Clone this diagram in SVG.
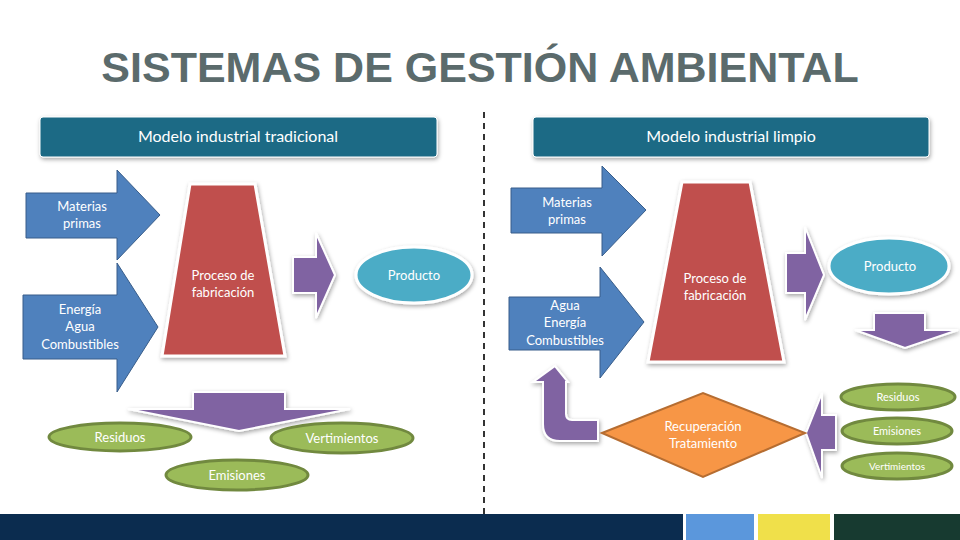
<svg xmlns="http://www.w3.org/2000/svg" width="960" height="540" viewBox="0 0 960 540">
<defs>
<filter id="sh" x="-20%" y="-20%" width="140%" height="150%"><feDropShadow dx="1" dy="2" stdDeviation="2" flood-color="#000" flood-opacity="0.35"/></filter>
<style>
text{font-family:Lato,"Liberation Sans",sans-serif;fill:#fff;text-anchor:middle}
.t{font-size:13px}
.blue{fill:#4f81bd;stroke:#385d8a;stroke-width:1}
.red{fill:#c0504d;stroke:#fff;stroke-width:3}
.pur{fill:#8064a2;stroke:#fff;stroke-width:2}
.cyan{fill:#4bacc6;stroke:#fff;stroke-width:3}
.grn{fill:#9bbb59;stroke:#71893f;stroke-width:3}
.hdr{fill:#1d6a85;stroke:#fff;stroke-width:1}
</style>
</defs>
<rect width="960" height="540" fill="#fff"/>
<text x="480" y="82" style="font-family:'Liberation Sans',sans-serif;font-size:43px;font-weight:bold;fill:#5b6b6c">SISTEMAS DE GESTIÓN AMBIENTAL</text>
<line x1="484" y1="112" x2="484" y2="540" stroke="#333" stroke-width="2" stroke-dasharray="6,5"/>
<g id="hdr-left"><rect class="hdr" x="40" y="117" width="397" height="40" rx="3" filter="url(#sh)"/><text x="238" y="142" style="font-size:16px">Modelo industrial tradicional</text></g>
<g id="hdr-right"><rect class="hdr" x="533" y="117" width="396" height="40" rx="3" filter="url(#sh)"/><text x="731" y="142" style="font-size:16px">Modelo industrial limpio</text></g>

<g id="connectors">
<polygon class="pur" points="293,257 316,257 316,233 335,275 316,318 316,293 293,293" filter="url(#sh)"/>
<polygon class="pur" points="193,392 285,392 285,409 350,409 239,431 128,409 193,409" filter="url(#sh)"/>
<polygon class="pur" points="786,253 805,253 805,227 824,275 805,320 805,293 786,293" filter="url(#sh)"/>
<polygon class="pur" points="874,313 925,313 925,330 958,330 905,348 855,330 874,330" filter="url(#sh)"/>
<polygon class="pur" points="836,415 822,415 822,393 806,433 822,478 822,450 836,450" filter="url(#sh)"/>
<path class="pur" d="M598,420 L572,420 Q566,420 566,414 L566,382 L568,382 L555,366 L533,382 L543,382 L543,424 Q543,441 560,441 L598,441 Z" filter="url(#sh)"/>
</g>

<g id="l-materias"><polygon class="blue" points="26,193 117,193 117,170 160,215 117,260 117,238 26,238"/><text class="t" x="82" y="211">Materias</text><text class="t" x="82" y="228">primas</text></g>
<g id="l-energia"><polygon class="blue" points="23,295 117,295 117,263 158,327 117,392 117,359 23,359"/><text class="t" x="80" y="314">Energía</text><text class="t" x="80" y="331">Agua</text><text class="t" x="80" y="349">Combustibles</text></g>
<g id="l-proceso"><polygon class="red" points="190,184 255,184 285,356 162,356" filter="url(#sh)"/><text class="t" x="223" y="280">Proceso de</text><text class="t" x="223" y="297">fabricación</text></g>
<g id="l-producto"><ellipse class="cyan" cx="414" cy="275" rx="58" ry="28" filter="url(#sh)"/><text class="t" x="414" y="280">Producto</text></g>
<g id="l-residuos"><ellipse class="grn" cx="120" cy="437" rx="71" ry="14"/><text class="t" x="120" y="442">Residuos</text></g>
<g id="l-vertimientos"><ellipse class="grn" cx="342" cy="438" rx="71" ry="15"/><text class="t" x="342" y="443">Vertimientos</text></g>
<g id="l-emisiones"><ellipse class="grn" cx="237" cy="475" rx="71" ry="15"/><text class="t" x="237" y="480">Emisiones</text></g>

<g id="r-materias"><polygon class="blue" points="511,188 602,188 602,166 646,210 602,256 602,233 511,233"/><text class="t" x="567" y="207">Materias</text><text class="t" x="567" y="224">primas</text></g>
<g id="r-agua"><polygon class="blue" points="509,297 600,297 600,267 644,322 600,378 600,350 509,350"/><text class="t" x="565" y="310">Agua</text><text class="t" x="565" y="327">Energía</text><text class="t" x="565" y="345">Combustibles</text></g>
<g id="r-proceso"><polygon class="red" points="682,182 750,182 784,362 648,362" filter="url(#sh)"/><text class="t" x="715" y="283">Proceso de</text><text class="t" x="715" y="300">fabricación</text></g>
<g id="r-producto"><ellipse class="cyan" cx="889" cy="266" rx="60" ry="28" filter="url(#sh)"/><text class="t" x="890" y="271">Producto</text></g>
<g id="r-residuos"><ellipse class="grn" cx="898" cy="397" rx="57" ry="13"/><text x="898" y="401" style="font-size:11px">Residuos</text></g>
<g id="r-emisiones"><ellipse class="grn" cx="897" cy="431" rx="55" ry="13"/><text x="897" y="435" style="font-size:11px">Emisiones</text></g>
<g id="r-vertimientos"><ellipse class="grn" cx="897" cy="466" rx="55" ry="13"/><text x="897" y="470" style="font-size:10px">Vertimientos</text></g>
<g id="r-recuperacion"><polygon points="602,433 703,393 805,433 703,477" fill="#f79646" stroke="#b66d31" stroke-width="2"/><text class="t" x="703" y="431">Recuperación</text><text class="t" x="703" y="448">Tratamiento</text></g>

<rect x="0" y="514" width="683" height="26" fill="#0b2c4f"/>
<rect x="686" y="514" width="68" height="26" fill="#5b97dc"/>
<rect x="758" y="514" width="72" height="26" fill="#f0e04a"/>
<rect x="834" y="514" width="126" height="26" fill="#173a30"/>
</svg>
